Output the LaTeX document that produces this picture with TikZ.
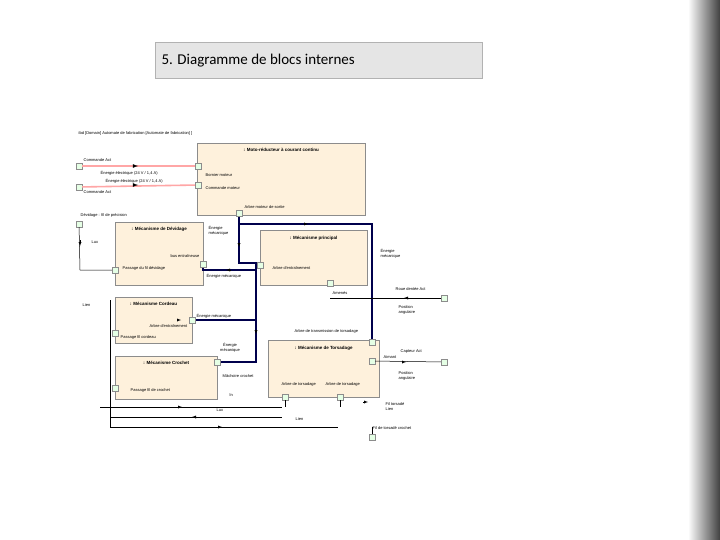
\documentclass[tikz,border=0pt]{standalone}
\usepackage{fontspec}
\setmainfont{Liberation Sans}
\newfontfamily\titlefont{Carlito}
\begin{document}
\begin{tikzpicture}[x=1pt,y=-1pt,
 blk/.style={draw=black!45,fill=yellow!18!orange!12,inner sep=0pt},
 prt/.style={draw=black!45,fill=green!10,minimum size=6pt,inner sep=0pt},
 lab/.style={font=\fontsize{4}{5}\selectfont,inner sep=0.5pt},
 ttl/.style={font=\bfseries\fontsize{4.5}{5}\selectfont},
 pk/.style={draw=red!35,line width=1.6pt},
 nv/.style={draw=blue!30!black,line width=1.4pt},
 thn/.style={draw=black,line width=0.5pt},
 arr/.style={-latex}]
\useasboundingbox (0,0) rectangle (720,540);
\fill[white] (0,0) rectangle (720,540);
\shade[left color=white,right color=black!75] (688,0) rectangle (720,540);
\node[draw=black!30,fill=black!10,minimum width=327pt,minimum height=36pt,inner sep=0pt,anchor=north west] (title) at (155,42) {};
\node[anchor=west,font=\titlefont\fontsize{15}{17}\selectfont] (ttext) at (158,61) {5. Diagramme de blocs internes};
\node[lab,anchor=west] (hdr) at (78,133) {ibd [Domain] Automate de fabrication [Automate de fabrication] ]};
% blocks
\node[blk,minimum width=168pt,minimum height=72pt,anchor=north west] (moto) at (197,143) {};
\node[ttl,anchor=north] at (moto.north) [yshift=-2pt] {: Moto-réducteur à courant continu};
\node[blk,minimum width=88pt,minimum height=63pt,anchor=north west] (dev) at (115,222) {};
\node[ttl,anchor=north] at (dev.north) [yshift=-2pt] {: Mécanisme de Dévidage};
\node[blk,minimum width=107pt,minimum height=55pt,anchor=north west] (princ) at (260,230) {};
\node[ttl,anchor=north] at (princ.north) [yshift=-3pt] {: Mécanisme principal};
\node[blk,minimum width=77pt,minimum height=46pt,anchor=north west] (cord) at (115,297) {};
\node[ttl,anchor=north] at (cord.north) [yshift=-2pt] {: Mécanisme Cordeau};
\node[blk,minimum width=102pt,minimum height=43pt,anchor=north west] (croc) at (115,356) {};
\node[ttl,anchor=north] at (croc.north) [yshift=-2pt] {: Mécanisme Crochet};
\node[blk,minimum width=111pt,minimum height=57pt,anchor=north west] (tors) at (268,340) {};
\node[ttl,anchor=north] at (tors.north) [yshift=-3pt] {: Mécanisme de Torsadage};
% navy (under ports)
\draw[nv] (239,213) -- (239,263) -- (260,263);
\draw[nv] (239,224) -- (372,224) -- (372,342);
\draw[nv] (203,264) -- (203,270) -- (256,270);
\draw[nv] (256,263) -- (256,362) -- (217,362);
\draw[nv] (192,320) -- (256,320);
% ports
\node[prt] (p1) at (79,166) {}; \node[prt] (p2) at (79,187) {};
\node[prt] (m1) at (198,166) {}; \node[prt] (m2) at (198,185) {}; \node[prt] (m3) at (239,213) {};
\node[prt] (p3) at (79,224) {};
\node[prt] (d1) at (203,264) {}; \node[prt] (d2) at (115,270) {};
\node[prt] (r1) at (260,265) {}; \node[prt] (r2) at (330,283) {};
\node[prt] (c1) at (192,320) {}; \node[prt] (c2) at (115,333) {};
\node[prt] (k1) at (217,362) {}; \node[prt] (k2) at (115,388) {};
\node[prt] (t1) at (372,342) {}; \node[prt] (t2) at (372,361) {};
\node[prt] (t3) at (285,397) {}; \node[prt] (t4) at (340,397) {};
\node[prt] (o1) at (444,298) {}; \node[prt] (o2) at (444,362) {}; \node[prt] (o3) at (372,437) {};
% pink
\draw[pk] (p1) -- (m1); \draw[pk] (p2) -- (m2);
\draw[-latex,thick] (135,166) -- (138,166); \draw[-latex,thick] (135,185) -- (138,185);
% thin lines
\draw[thn] (p3) -- (80,270) -- (d2);
\draw[thn] (330,298) -- (o1);
\draw[thn] (t2) -- (o2);
\draw[thn] (110,300) -- (110,427) -- (338,427);
\draw[thn] (100,407) -- (282,407);
\draw[thn] (110,417) -- (282,417);
\draw[thn] (t3) -- (285,407); \draw[thn] (t4) -- (340,407);
\draw[thn] (o3) -- (372,427);
% labels
\node[lab,anchor=west] at (83,160) {Commande Act};
\node[lab,anchor=west] at (100,173) {Énergie électrique (24 V / 1,4 A)};
\node[lab,anchor=west] at (105,181) {Énergie électrique (24 V / 1,4 A)};
\node[lab,anchor=west] at (83,192) {Commande Act};
\node[lab,anchor=west] at (205,175) {Bornier moteur};
\node[lab,anchor=west] at (205,188) {Commande moteur};
\node[lab,anchor=west] at (244,207) {Arbre moteur de sortie};
\node[lab,anchor=west] at (80,215) {Dévidage : fil de précision};
\node[lab,anchor=west] at (91,242) {Lux};
\node[lab,anchor=east] at (200,256) {bus entraîneuse};
\node[lab,anchor=west] at (122,268) {Passage du fil dévidage};
\node[lab,align=left,anchor=west] at (208,231) {Énergie\\mécanique};
\node[lab,anchor=west] at (206,276) {Énergie mécanique};
\node[lab,anchor=west] at (272,268) {Arbre d'entraînement};
\node[lab,align=left,anchor=west] at (380,254) {Énergie\\mécanique};
\node[lab,anchor=west] at (332,293) {Amenés};
\node[lab,anchor=west] at (395,289) {Roue dentée Act};
\node[lab,align=left,anchor=west] at (398,310) {Position\\angulaire};
\node[lab,anchor=west] at (82,305) {Lien};
\node[lab,anchor=west] at (196,316) {Énergie mécanique};
\node[lab,anchor=east] at (188,326) {Arbre d'entraînement};
\node[lab,anchor=west] at (120,337) {Passage fil cordeau};
\node[lab,align=center] at (230,348) {Énergie\\mécanique};
\node[lab,anchor=west] at (294,331) {Arbre de transmission de torsadage};
\node[lab,anchor=west] at (222,376) {Mâchoire crochet};
\node[lab,anchor=west] at (130,390) {Passage fil de crochet};
\node[lab,anchor=west] at (281,384) {Arbre de torsadage};
\node[lab,anchor=west] at (325,384) {Arbre de torsadage};
\node[lab,anchor=west] at (383,357) {Aimant};
\node[lab,anchor=west] at (400,352) {Capteur Act};
\node[lab,align=left,anchor=west] at (398,376) {Position\\angulaire};
\node[lab,anchor=west] at (229,395) {ln};
\node[lab,anchor=west] at (216,410) {Lux};
\node[lab,anchor=west] at (295,419) {Lien};
\node[lab,align=left,anchor=west] at (385,407) {Fil torsadé\\Lien};
\node[lab,anchor=west] at (372,428) {Fil de torsadé crochet};
% arrows
\draw[arr] (178,407) -- (182,407); \draw[arr] (196,417) -- (192,417); \draw[arr] (218,427) -- (222,427);
\draw[arr] (80,240) -- (80,246);
\draw[arr] (239,243) -- (239,247);
\draw[arr] (304,224) -- (308,224);
\draw[arr] (256,330) -- (256,334);
\draw[arr] (230,270) -- (226,270);
\draw[arr] (177,320) -- (181,320);
\draw[arr] (410,298) -- (404,298);
\draw[arr] (402,362) -- (406,362);
\draw[arr] (363,402) -- (368,402);
\end{tikzpicture}
\end{document}
